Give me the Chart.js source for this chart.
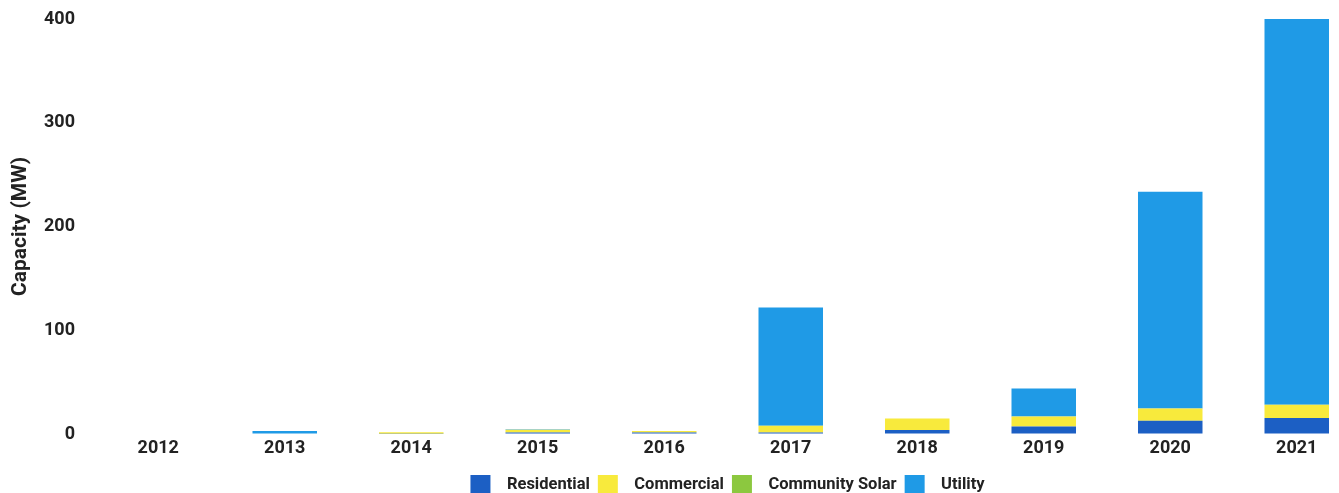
<!DOCTYPE html>
<html>
<head>
<meta charset="utf-8">
<script src="https://cdn.jsdelivr.net/npm/chart.js@4.4.1/dist/chart.umd.min.js"></script>
<style>
  html, body { margin: 0; padding: 0; background: #fff; overflow: hidden; }
  #wrap { width: 1365px; height: 493px; }
</style>
</head>
<body>
<div id="wrap"><canvas id="chart"></canvas></div>
<script>
// capacity added per year (MW)
const years = ['2012', '2013', '2014', '2015', '2016', '2017', '2018', '2019', '2020', '2021'];
const residential    = [0, 0,   0.3, 1.5, 1.5, 1.5, 3.8,  7.3,  12.8, 15.4];
const commercial     = [0, 0.4, 1.5, 2.5, 1.5, 6.4, 11.2, 9.6,  11.8, 12.9];
const communitySolar = [0, 0,   0,   0,   0,   0,   0,    0,    0,    0];
const utility        = [0, 2.5, 0,   0.5, 0,   114, 0,    27,   209,  372];
const yTicks = [0, 100, 200, 300, 400];

const fontFamily = 'Roboto, "Liberation Sans", sans-serif';
const textColor = '#222';

new Chart(document.getElementById('chart'), {
  type: 'bar',
  data: {
    labels: years,
    datasets: [
      { label: 'Residential', data: residential, backgroundColor: '#1c5fc4' },
      { label: 'Commercial', data: commercial, backgroundColor: '#f8ea3c' },
      { label: 'Community Solar', data: communitySolar, backgroundColor: '#8cc83f' },
      { label: 'Utility', data: utility, backgroundColor: '#1f9ae6' }
    ]
  },
  options: {
    responsive: true,
    maintainAspectRatio: false,
    animation: false,
    datasets: { bar: { barPercentage: 0.51, categoryPercentage: 1 } },
    layout: { padding: { left: 4, top: 19, right: 5, bottom: -12 } },
    plugins: {
      tooltip: { enabled: false },
      legend: {
        position: 'bottom',
        fullSize: false,
        labels: {
          boxWidth: 20,
          boxHeight: 20,
          padding: 8,
          color: textColor,
          font: { family: fontFamily, size: 16.5, weight: 'bold' },
          generateLabels(chart) {
            const items = Chart.defaults.plugins.legend.labels.generateLabels(chart);
            items.forEach(it => { it.text = '  ' + it.text; it.lineWidth = 0; });
            return items;
          }
        }
      }
    },
    scales: {
      x: {
        stacked: true,
        afterFit(scale) { scale.height = 33; },
        grid: { display: false, drawTicks: false },
        border: { display: false },
        ticks: {
          color: textColor,
          padding: 4,
          font: { family: fontFamily, size: 18, weight: 'bold' }
        }
      },
      y: {
        stacked: true,
        min: 0,
        max: 400,
        afterFit(scale) { scale.width = 91; },
        afterBuildTicks(scale) { scale.ticks = yTicks.map(v => ({ value: v })); },
        // invisible tick marks push the labels away from the bars
        grid: { display: true, color: 'rgba(0,0,0,0)', drawOnChartArea: false, drawTicks: true, tickLength: 17 },
        border: { display: false },
        title: {
          display: true,
          text: 'Capacity (MW)',
          color: textColor,
          font: { family: fontFamily, size: 21, weight: 'bold' }
        },
        ticks: {
          color: textColor,
          padding: 3,
          font: { family: fontFamily, size: 18, weight: 'bold' }
        }
      }
    }
  }
});
</script>
</body>
</html>
